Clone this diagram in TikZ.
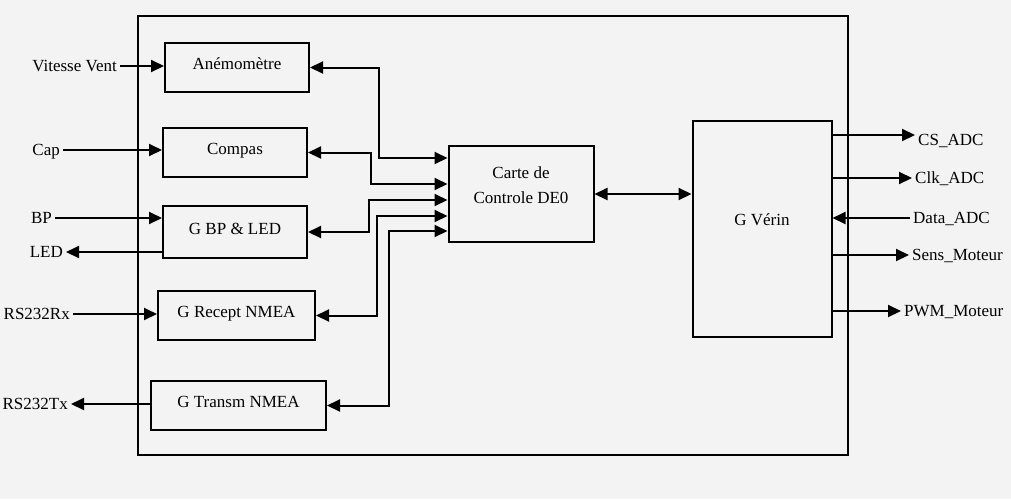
\documentclass[tikz,border=0pt]{standalone}
\usepackage{fontspec}
\setmainfont{Liberation Serif}
\usetikzlibrary{arrows.meta}

\definecolor{bgcol}{RGB}{243,243,243}

\tikzset{
    blk/.style={draw, line width=2pt, inner sep=0pt, text height=12pt, text depth=8pt},
    lbl/.style={inner sep=3pt, text height=13pt, text depth=3pt},
    arr/.style={line width=2pt, -{Triangle[length=13pt,width=12pt]}},
    darr/.style={line width=2pt, {Triangle[length=13pt,width=12pt]}-{Triangle[length=13pt,width=12pt]}}
}

\begin{document}
\begin{tikzpicture}[x=1pt, y=-1pt, font=\fontsize{17}{20}\selectfont]
    % Background and frame
    \fill[bgcol] (0,0) rectangle (1011,499);
    \useasboundingbox (0,0) rectangle (1011,499);
    \draw[line width=2pt] (138,16) rectangle (848,455);

    % Blocks
    \node[blk, minimum width=144, minimum height=49] (anem) at (237,67.5) {Anémomètre};
    \node[blk, minimum width=144, minimum height=49] (compas) at (235,152.5) {Compas};
    \node[blk, minimum width=144, minimum height=52] (gbp) at (235,232) {G BP \& LED};
    \node[blk, minimum width=157, minimum height=49] (grecept) at (236.5,315.5) {G Recept NMEA};
    \node[blk, minimum width=175, minimum height=49] (gtransm) at (238.5,405.5) {G Transm NMEA};
    \node[blk, minimum width=145, minimum height=96, align=center, text height=37pt, text depth=19pt,
          font=\fontsize{17}{25}\selectfont] (de0) at (521,194) {Carte de\\Controle DE0};
    \node[blk, minimum width=139, minimum height=216, text depth=20pt] (verin) at (762,229) {G Vérin};

    % Inputs and outputs on the left
    \node[lbl, anchor=east] (vent) at (120,66) {Vitesse Vent};
    \node[lbl, anchor=east] (cap) at (63,150) {Cap};
    \node[lbl, anchor=east] (bp) at (55,218) {BP};
    \node[lbl, anchor=east] (led) at (66,252) {LED};
    \node[lbl, anchor=east] (rx) at (73,314) {RS232Rx};
    \node[lbl, anchor=east] (tx) at (71,404) {RS232Tx};

    \draw[arr] (vent.east) -- (vent.east -| anem.west);
    \draw[arr] (cap.east) -- (cap.east -| compas.west);
    \draw[arr] (bp.east) -- (bp.east -| gbp.west);
    \draw[arr] (led.east -| gbp.west) -- (led.east);
    \draw[arr] (rx.east) -- (rx.east -| grecept.west);
    \draw[arr] (tx.east -| gtransm.west) -- (tx.east);

    % Links to the DE0 board
    \draw[darr] (anem.east) -- ++(69,0) |- (de0.west |- 0,158);
    \draw[darr] (compas.east) -- ++(63,0) |- (de0.west |- 0,184);
    \draw[darr] (gbp.east) -- ++(61,0) |- (de0.west |- 0,200);
    \draw[darr] (grecept.east) -- ++(61,0) |- (de0.west |- 0,216);
    \draw[darr] (gtransm.east) -- ++(62,0) |- (de0.west |- 0,231);
    \draw[darr] (de0.east) -- (verin.west |- de0.east);

    % Signals of the actuator block
    \node[lbl, anchor=west] (cs) at (915,140) {CS\_ADC};
    \node[lbl, anchor=west] (clk) at (912,178) {Clk\_ADC};
    \node[lbl, anchor=west] (data) at (910,218) {Data\_ADC};
    \node[lbl, anchor=west] (sens) at (909,255) {Sens\_Moteur};
    \node[lbl, anchor=west] (pwm) at (901,311) {PWM\_Moteur};

    \draw[arr] (verin.east |- 0,135) -- (cs.west |- 0,135);
    \draw[arr] (verin.east |- clk) -- (clk.west);
    \draw[arr] (data.west) -- (verin.east |- data);
    \draw[arr] (verin.east |- sens) -- (sens.west);
    \draw[arr] (verin.east |- pwm) -- (pwm.west);
\end{tikzpicture}
\end{document}
